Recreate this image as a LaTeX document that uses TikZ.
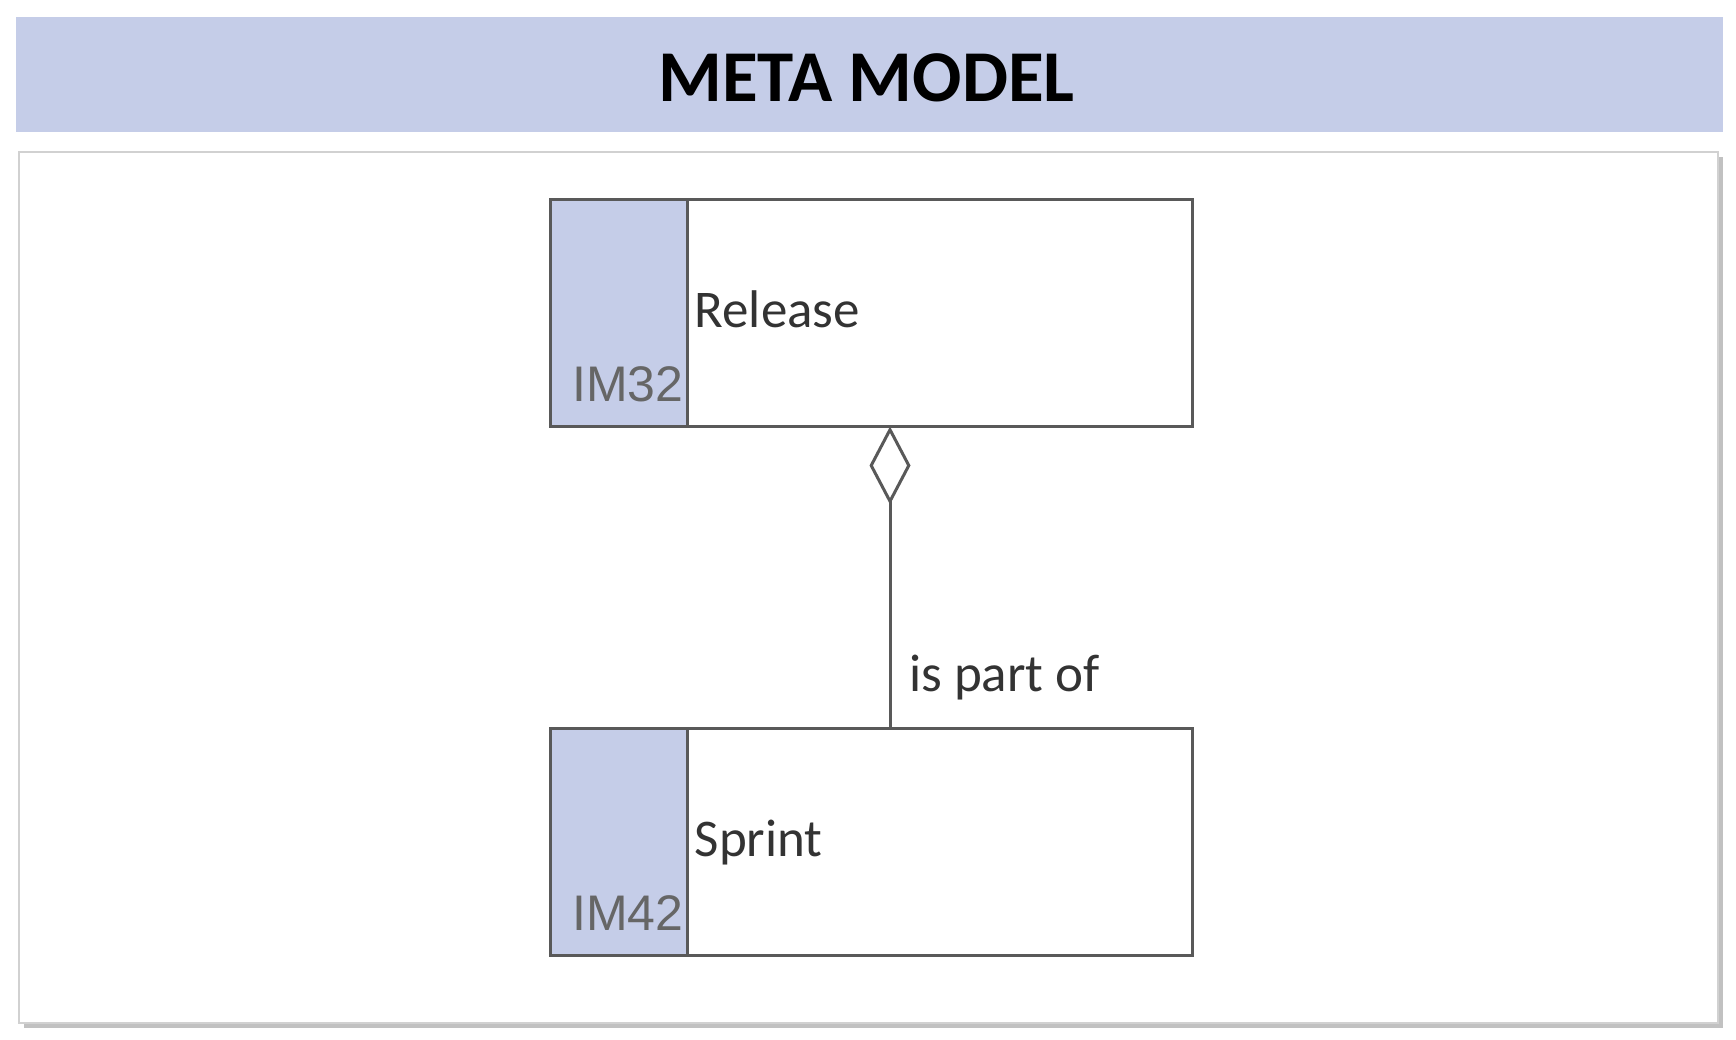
\documentclass[tikz,border=0pt]{standalone}
\usepackage{fontspec}
\setmainfont{Carlito}
\newfontfamily\idfont{Liberation Sans}
\usetikzlibrary{arrows.meta,shadows}
\definecolor{headblue}{HTML}{C5CDE8}
\definecolor{linegray}{HTML}{595959}
\definecolor{idgray}{HTML}{666666}
\definecolor{textgray}{HTML}{333333}

\begin{document}
\begin{tikzpicture}[x=1pt,y=1pt,
  header/.style={fill=headblue,minimum width=1707pt,minimum height=115pt,inner sep=0pt},
  title/.style={inner sep=0pt,font=\fontsize{73}{86}\selectfont\bfseries,text=black},
  panel/.style={fill=white,draw=black!18,line width=1.5pt,minimum width=1699pt,minimum height=871pt,
    drop shadow={shadow xshift=5pt,shadow yshift=-5pt,opacity=.35,fill=black!70}},
  classbox/.style={draw=linegray,line width=3pt,fill=white,minimum width=642pt,minimum height=227pt,inner sep=0pt},
  idstrip/.style={draw=linegray,line width=3pt,fill=headblue,minimum width=137pt,minimum height=227pt,
    inner sep=0pt,anchor=north west},
  idlabel/.style={font=\idfont\fontsize{50}{60}\selectfont,text=idgray,inner sep=0pt,anchor=base east},
  classname/.style={font=\fontsize{53}{63}\selectfont,text=textgray,inner sep=0pt,anchor=base west},
  partof/.style={draw=linegray,line width=3pt,shorten >=-2pt,-{Diamond[open,length=78pt,width=41pt]}}]
\useasboundingbox (0,0) rectangle (1736,1040);

% title band and white sheet
\node[header] (header) at (869.5,965.5) {};
\node[title] (heading) at ([xshift=-3pt,yshift=-3pt]header.center) {META MODEL};
\node[panel] (panel) at (868.5,452.5) {};

% classes
\node[classbox] (release) at (871,726.5) {};
\node[idstrip] (releaseid) at (release.north west) {};
\node[idlabel] (releasecode) at ([xshift=-5pt,yshift=27pt]releaseid.south east) {IM32};
\node[classname] (releasename) at ([xshift=6pt,yshift=-14.5pt]releaseid.east) {Release};

\node[classbox] (sprint) at (871,197.5) {};
\node[idstrip] (sprintid) at (sprint.north west) {};
\node[idlabel] (sprintcode) at ([xshift=-5pt,yshift=27pt]sprintid.south east) {IM42};
\node[classname] (sprintname) at ([xshift=6pt,yshift=-14.5pt]sprintid.east) {Sprint};

% aggregation
\draw[partof] ([xshift=19pt]sprint.north) -- ([xshift=19pt]release.south);
\node[classname] (partoflabel) at ([xshift=38pt,yshift=36pt]sprint.north) {is part of};
\end{tikzpicture}
\end{document}
